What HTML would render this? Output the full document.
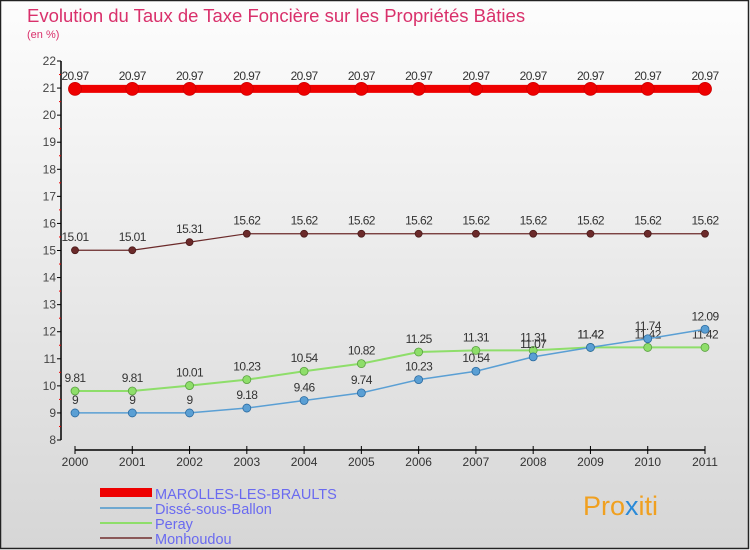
<!DOCTYPE html>
<html><head><meta charset="utf-8"><style>
body{margin:0;width:750px;height:550px;overflow:hidden;font-family:"Liberation Sans",sans-serif}
svg{display:block}
</style></head><body>
<svg width="750" height="550">
<defs><linearGradient id="bg" x1="0" y1="0" x2="0" y2="1"><stop offset="0" stop-color="#fdfdfd"/><stop offset="1" stop-color="#d6d6d6"/></linearGradient></defs>
<rect x="0.5" y="0.5" width="748" height="548" fill="url(#bg)" stroke="#222" stroke-width="1.5"/>
<text x="27" y="22" font-size="18.5" fill="#d9306b">Evolution du Taux de Taxe Foncière sur les Propriétés Bâties</text>
<text x="27" y="38" font-size="11" fill="#d9306b">(en %)</text>
<g id="axes"></g>
<g id="series"></g>
<g>
<rect x="100" y="488" width="52" height="9" fill="#e00"/>
<text x="155" y="499" font-size="14.5" fill="#6a6af0">MAROLLES-LES-BRAULTS</text>
<rect x="100" y="507" width="52" height="2" fill="#6fa8d0"/>
<text x="155" y="514" font-size="14.5" fill="#6a6af0">Dissé-sous-Ballon</text>
<rect x="100" y="522" width="52" height="2" fill="#8ede6a"/>
<text x="155" y="529" font-size="14.5" fill="#6a6af0">Peray</text>
<rect x="100" y="537" width="52" height="2" fill="#8a5858"/>
<text x="155" y="544" font-size="14.5" fill="#6a6af0">Monhoudou</text>
</g>
<text x="583" y="515" font-size="27" fill="#f0a020">Pro<tspan fill="#2a8ad8">x</tspan>iti</text>
</svg>
<script>
const years=[2000,2001,2002,2003,2004,2005,2006,2007,2008,2009,2010,2011];
const marolles=[20.97,20.97,20.97,20.97,20.97,20.97,20.97,20.97,20.97,20.97,20.97,20.97];
const disse=[9,9,9,9.18,9.46,9.74,10.23,10.54,11.07,11.42,11.74,12.09];
const peray=[9.81,9.81,10.01,10.23,10.54,10.82,11.25,11.31,11.31,11.42,11.42,11.42];
const monhoudou=[15.01,15.01,15.31,15.62,15.62,15.62,15.62,15.62,15.62,15.62,15.62,15.62];
const yTicks=[8,9,10,11,12,13,14,15,16,17,18,19,20,21,22];
const NS="http://www.w3.org/2000/svg";
const xs=i=>75+i*(630/11);
const ys=v=>61+(22-v)*(379/14);
function mk(t,a,p){const e=document.createElementNS(NS,t);for(const k in a)e.setAttribute(k,a[k]);p.appendChild(e);return e;}
const ax=document.getElementById('axes');
const yl=mk('line',{x1:61,y1:61,x2:61,y2:440,stroke:'#000','stroke-width':1.5},ax);


yTicks.forEach(v=>{
 mk('line',{x1:57,y1:ys(v),x2:61,y2:ys(v),stroke:'#000'},ax);
 if(v<22) mk('line',{x1:59,y1:ys(v+0.5),x2:61,y2:ys(v+0.5),stroke:'#e00'},ax);
 const t=mk('text',{x:56,y:ys(v)+4,'text-anchor':'end','font-size':12,fill:'#444'},ax);
 t.textContent=v;
 
 
});
const xl=mk('line',{x1:75,y1:450,x2:705,y2:450,stroke:'#000','stroke-width':1.5},ax);


years.forEach((y,i)=>{
 mk('line',{x1:xs(i),y1:446,x2:xs(i),y2:454,stroke:'#000'},ax);
 const t=mk('text',{x:xs(i),y:466,'text-anchor':'middle','font-size':12,fill:'#333'},ax);
 t.textContent=y;
 
 
});
const sg=document.getElementById('series');
function series(name,data,color,w,r,stroke){
 const g=mk('g',{},sg);
 
 
 const pl=mk('polyline',{points:data.map((v,i)=>xs(i)+','+ys(v)).join(' '),fill:'none',stroke:color,'stroke-width':w},g);
 
 
 data.forEach((v,i)=>{
  const c=mk('circle',{cx:xs(i),cy:ys(v),r:r,fill:color,stroke:stroke,'stroke-width':0.8},g);
  
  
  const t=mk('text',{x:xs(i),y:ys(v)-9,'text-anchor':'middle','font-size':12,fill:'#333','letter-spacing':'-0.6'},g);
  t.textContent=String(v);
  
  
 });
}
series('monhoudou',monhoudou,'#6b2a2a',1.2,3.5,'#4a1a1a');
series('peray',peray,'#8ede6a',2,4,'#5aa040');
series('disse',disse,'#5a9fd4',1.5,4,'#2a6aa0');
series('marolles',marolles,'#ee0000',8,6.5,'#cc0000');
</script>
</body></html>
